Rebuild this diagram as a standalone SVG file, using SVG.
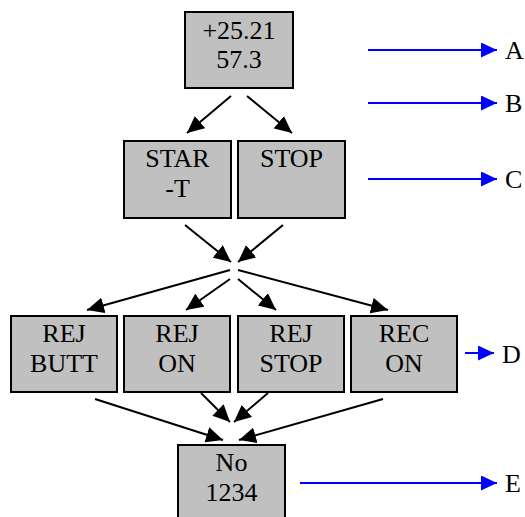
<svg xmlns="http://www.w3.org/2000/svg" width="525" height="517" viewBox="0 0 525 517">
<style>
.box{fill:#c0c0c0;stroke:#000;stroke-width:2}
.t{font-family:"Liberation Serif","Times New Roman",serif;font-size:26px;fill:#000;text-anchor:middle}
.lab{font-family:"Liberation Serif","Times New Roman",serif;font-size:26px;fill:#000}
.c{stroke:#000;stroke-width:2;fill:none;marker-end:url(#ak)}
.b{stroke:#0000ff;stroke-width:2;fill:none;marker-end:url(#ab)}
</style>
<defs>
<marker id="ak" markerUnits="userSpaceOnUse" markerWidth="18" markerHeight="16" refX="17" refY="8" orient="auto"><path d="M0,0 L17,8 L0,16 z" fill="#000"/></marker>
<marker id="ab" markerUnits="userSpaceOnUse" markerWidth="18" markerHeight="16" refX="16" refY="7.5" orient="auto"><path d="M0,0 L16,7.5 L0,15 z" fill="#0000ff"/></marker>
</defs>
<rect width="525" height="517" fill="#fff"/>
<g id="n1"><rect class="box" x="185" y="12" width="108" height="76"/><text class="t" x="239" y="39">+25.21</text><text class="t" x="239" y="68">57.3</text></g>
<g id="n2"><rect class="box" x="124" y="141" width="107" height="77"/><text class="t" x="177.5" y="167">STAR</text><text class="t" x="177.5" y="197">-T</text></g>
<g id="n3"><rect class="box" x="238" y="141" width="107" height="77"/><text class="t" x="291.5" y="167">STOP</text></g>
<g id="n4"><rect class="box" x="11" y="316" width="106" height="76"/><text class="t" x="64" y="342">REJ</text><text class="t" x="64" y="372">BUTT</text></g>
<g id="n5"><rect class="box" x="124" y="316" width="106" height="76"/><text class="t" x="177" y="342">REJ</text><text class="t" x="177" y="372">ON</text></g>
<g id="n6"><rect class="box" x="238" y="316" width="106" height="76"/><text class="t" x="291" y="342">REJ</text><text class="t" x="291" y="372">STOP</text></g>
<g id="n7"><rect class="box" x="351" y="316" width="106" height="76"/><text class="t" x="404" y="342">REC</text><text class="t" x="404" y="372">ON</text></g>
<g id="n8"><rect class="box" x="178" y="445" width="107" height="80"/><text class="t" x="231.5" y="471">No</text><text class="t" x="231.5" y="501">1234</text></g>
<g id="connectors">
<line class="c" x1="231" y1="96" x2="187" y2="133"/>
<line class="c" x1="247" y1="96" x2="292" y2="133"/>
<line class="c" x1="185" y1="225" x2="231" y2="262"/>
<line class="c" x1="283" y1="225" x2="238" y2="262"/>
<line class="c" x1="230" y1="270" x2="87" y2="310"/>
<line class="c" x1="230" y1="279" x2="186" y2="310"/>
<line class="c" x1="238" y1="279" x2="276" y2="310"/>
<line class="c" x1="238" y1="270" x2="388" y2="310"/>
<line class="c" x1="95" y1="399" x2="223" y2="440"/>
<line class="c" x1="201" y1="393" x2="230" y2="422"/>
<line class="c" x1="268" y1="393" x2="234" y2="422"/>
<line class="c" x1="383" y1="399" x2="239" y2="440"/>
<line class="b" x1="368" y1="50" x2="497" y2="50"/>
<line class="b" x1="368" y1="103" x2="497" y2="103"/>
<line class="b" x1="368" y1="179" x2="497" y2="179"/>
<line class="b" x1="465" y1="353" x2="494" y2="353"/>
<line class="b" x1="300" y1="483" x2="497" y2="483"/>
</g>
<g id="labels">
<text class="lab" x="505" y="59">A</text>
<text class="lab" x="505" y="112">B</text>
<text class="lab" x="505" y="188">C</text>
<text class="lab" x="502" y="363">D</text>
<text class="lab" x="505" y="492">E</text>
</g>
</svg>
